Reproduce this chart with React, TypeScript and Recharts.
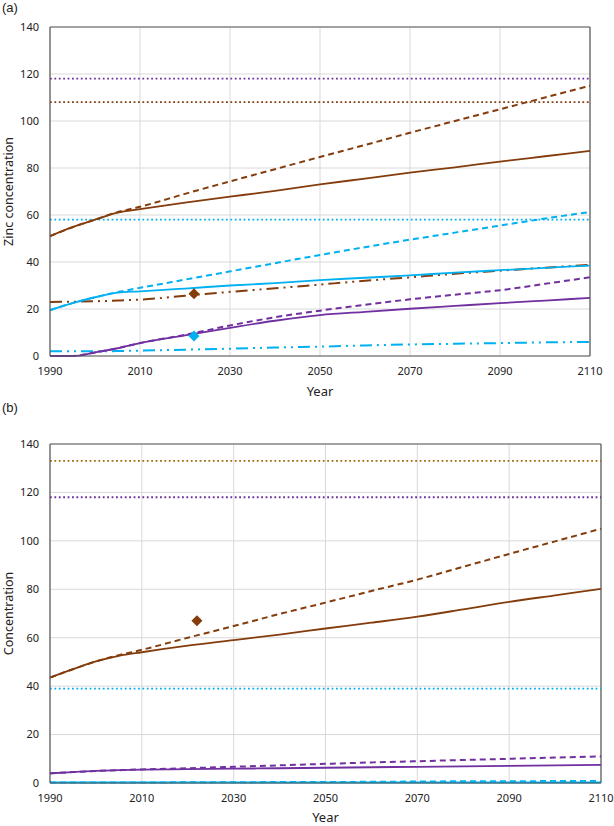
import {
  ComposedChart,
  Line,
  Scatter,
  XAxis,
  YAxis,
  CartesianGrid,
  ReferenceLine,
} from 'recharts';

// shared x positions (years)
const years = [1990, 1995, 2000, 2005, 2010, 2020, 2030, 2040, 2050, 2060, 2070, 2080, 2090, 2100, 2110];
const xTicks = [1990, 2010, 2030, 2050, 2070, 2090, 2110];
const yTicks = [0, 20, 40, 60, 80, 100, 120, 140];

// panel (a)
const aBrownSolid = [51, 54.8, 58, 61, 62.5, 65.3, 67.8, 70.3, 73, 75.5, 78, 80.3, 82.7, 85, 87.3];
const aBrownDashed = [51, 54.8, 58, 61.2, 63.5, 69, 74.3, 79.5, 84.7, 89.8, 95, 100, 105, 110, 115];
const aCyanSolid = [19.5, 22.5, 25, 27, 27.5, 28.7, 30, 31, 32.3, 33.3, 34.3, 35.5, 36.5, 37.5, 38.5];
const aCyanDashed = [19.5, 22.5, 25, 27.2, 29, 32.5, 36, 39.5, 43, 46.3, 49.5, 52.5, 55.5, 58.5, 61.3];
const aBrownDashDot = [23, 23.1, 23.3, 23.6, 24, 25.6, 27.3, 28.8, 30.4, 32, 33.5, 35, 36.3, 37.6, 38.8];
const aPurpleSolid = [0, 0, 1.5, 3.3, 5.5, 8.8, 12, 15, 17.4, 18.8, 20.1, 21.3, 22.5, 23.6, 24.7];
const aPurpleDashed = [0, 0, 1.5, 3.3, 5.5, 9, 13, 16.5, 19.3, 21.8, 24.1, 26.1, 28, 30.7, 33.5];
const aCyanDashDot = [2, 2, 2, 2.1, 2.3, 2.7, 3.1, 3.6, 4, 4.5, 4.9, 5.2, 5.5, 5.8, 6];
const aLimits = [
  { value: 118, color: '#7030A0' },
  { value: 108, color: '#843C0C' },
  { value: 58, color: '#00B0F0' },
];
const aPoints = [
  { year: 2022, value: 26.5, color: '#843C0C' },
  { year: 2022, value: 8.5, color: '#00B0F0' },
];

// panel (b)
const bBrownSolid = [43.5, 47, 50.2, 52.5, 54, 56.7, 59, 61.3, 63.8, 66.2, 68.7, 71.7, 74.8, 77.5, 80.2];
const bBrownDashed = [43.5, 47, 50.2, 52.8, 55, 60, 64.8, 69.8, 74.5, 79.3, 84, 89.3, 94.6, 99.8, 105];
const bPurpleSolid = [4, 4.5, 5, 5.3, 5.5, 5.7, 5.9, 6.1, 6.3, 6.5, 6.7, 6.9, 7.1, 7.3, 7.5];
const bPurpleDashed = [4, 4.5, 5, 5.3, 5.6, 6.1, 6.7, 7.3, 7.9, 8.5, 9, 9.5, 10, 10.5, 11];
const bCyanSolid = [0.2, 0.2, 0.2, 0.2, 0.2, 0.2, 0.2, 0.2, 0.2, 0.2, 0.2, 0.2, 0.2, 0.2, 0.2];
const bCyanDashed = [0.2, 0.2, 0.2, 0.2, 0.2, 0.3, 0.3, 0.4, 0.4, 0.5, 0.6, 0.7, 0.7, 0.8, 0.8];
const bLimits = [
  { value: 133, color: '#9E6B0A' },
  { value: 118, color: '#7030A0' },
  { value: 39, color: '#00B0F0' },
];
const bPoints = [{ year: 2022, value: 67, color: '#843C0C' }];

const BROWN = '#843C0C';
const PURPLE = '#7030A0';
const CYAN = '#00B0F0';
const FONT = '"Noto Sans", sans-serif';

const SOLID = undefined;
const DASH = '6 4';
const DASH_DOT = '12 5 2 5 2 5';

type SeriesDef = { key: string; values: number[]; color: string; dash?: string };

const seriesA: SeriesDef[] = [
  { key: 'brownDashDot', values: aBrownDashDot, color: BROWN, dash: DASH_DOT },
  { key: 'cyanDashDot', values: aCyanDashDot, color: CYAN, dash: DASH_DOT },
  { key: 'purpleDashed', values: aPurpleDashed, color: PURPLE, dash: DASH },
  { key: 'purpleSolid', values: aPurpleSolid, color: PURPLE, dash: SOLID },
  { key: 'cyanDashed', values: aCyanDashed, color: CYAN, dash: DASH },
  { key: 'cyanSolid', values: aCyanSolid, color: CYAN, dash: SOLID },
  { key: 'brownDashed', values: aBrownDashed, color: BROWN, dash: DASH },
  { key: 'brownSolid', values: aBrownSolid, color: BROWN, dash: SOLID },
];

const seriesB: SeriesDef[] = [
  { key: 'cyanDashed', values: bCyanDashed, color: CYAN, dash: DASH },
  { key: 'cyanSolid', values: bCyanSolid, color: CYAN, dash: SOLID },
  { key: 'purpleDashed', values: bPurpleDashed, color: PURPLE, dash: DASH },
  { key: 'purpleSolid', values: bPurpleSolid, color: PURPLE, dash: SOLID },
  { key: 'brownDashed', values: bBrownDashed, color: BROWN, dash: DASH },
  { key: 'brownSolid', values: bBrownSolid, color: BROWN, dash: SOLID },
];

function buildRows(series: SeriesDef[]) {
  return years.map((year, i) => {
    const row: Record<string, number> = { year };
    series.forEach((s) => {
      row[s.key] = s.values[i];
    });
    return row;
  });
}

const Diamond = (props: any) => {
  const { cx, cy, fill } = props;
  const r = 5.5;
  return (
    <path
      d={`M${cx},${cy - r} L${cx + r},${cy} L${cx},${cy + r} L${cx - r},${cy} Z`}
      fill={fill}
    />
  );
};

type PanelProps = {
  tag: string;
  yLabel: string;
  series: SeriesDef[];
  limits: { value: number; color: string }[];
  points: { year: number; value: number; color: string }[];
  height: number;
  margin: { top: number; right: number; bottom: number; left: number };
  xAxisHeight: number;
};

function Panel({ tag, yLabel, series, limits, points, height, margin, xAxisHeight }: PanelProps) {
  const rows = buildRows(series);
  return (
    <div style={{ position: 'relative', width: 614, height }}>
      <div
        style={{
          position: 'absolute',
          left: 2,
          top: 0,
          fontFamily: '"Liberation Sans", sans-serif',
          fontSize: 13,
          color: '#222',
        }}
      >
        {tag}
      </div>
      <ComposedChart width={614} height={height} data={rows} margin={margin}>
        <CartesianGrid stroke="#d9d9d9" strokeWidth={1} />
        <XAxis
          dataKey="year"
          type="number"
          domain={[1990, 2110]}
          ticks={xTicks}
          height={xAxisHeight}
          tickSize={0}
          tickMargin={11}
          axisLine={{ stroke: '#595959', strokeWidth: 1.2 }}
          tick={{ fill: '#222', fontSize: 11, fontFamily: FONT }}
          label={{
            value: 'Year',
            position: 'insideBottom',
            offset: 4,
            fill: '#222',
            fontSize: 13,
            fontFamily: FONT,
          }}
        />
        <YAxis
          type="number"
          domain={[0, 140]}
          ticks={yTicks}
          width={50}
          tickSize={0}
          tickMargin={11}
          axisLine={{ stroke: '#595959', strokeWidth: 1.2 }}
          tick={{ fill: '#222', fontSize: 11, fontFamily: FONT }}
          label={{
            value: yLabel,
            angle: -90,
            position: 'insideLeft',
            offset: 9,
            style: { textAnchor: 'middle' },
            fill: '#222',
            fontSize: 12.5,
            fontFamily: FONT,
          }}
        />
        <ReferenceLine y={140} stroke="#595959" strokeWidth={1.2} />
        <ReferenceLine x={2110} stroke="#595959" strokeWidth={1.2} />
        {limits.map((l) => (
          <ReferenceLine
            key={`lim-${l.value}`}
            y={l.value}
            stroke={l.color}
            strokeWidth={1.8}
            strokeDasharray="1.8 2.6"
          />
        ))}
        {series.map((s) => (
          <Line
            key={s.key}
            dataKey={s.key}
            type="monotone"
            stroke={s.color}
            strokeWidth={s.dash === SOLID ? 1.8 : 2}
            strokeDasharray={s.dash}
            dot={false}
            activeDot={false}
            isAnimationActive={false}
          />
        ))}
        {points.map((p, i) => (
          <Scatter
            key={`pt-${i}`}
            data={[{ year: p.year, value: p.value }]}
            dataKey="value"
            fill={p.color}
            shape={<Diamond />}
            isAnimationActive={false}
          />
        ))}
      </ComposedChart>
    </div>
  );
}

export default function App() {
  return (
    <div
      style={{
        position: 'absolute',
        left: 0,
        top: 0,
        width: 614,
        height: 826,
        background: '#fff',
      }}
    >
      <Panel
        tag="(a)"
        yLabel="Zinc concentration"
        series={seriesA}
        limits={aLimits}
        points={aPoints}
        height={400}
        margin={{ top: 27, right: 24, bottom: 0, left: 0 }}
        xAxisHeight={44}
      />
      <Panel
        tag="(b)"
        yLabel="Concentration"
        series={seriesB}
        limits={bLimits}
        points={bPoints}
        height={426}
        margin={{ top: 44, right: 13, bottom: 0, left: 0 }}
        xAxisHeight={43}
      />
    </div>
  );
}
